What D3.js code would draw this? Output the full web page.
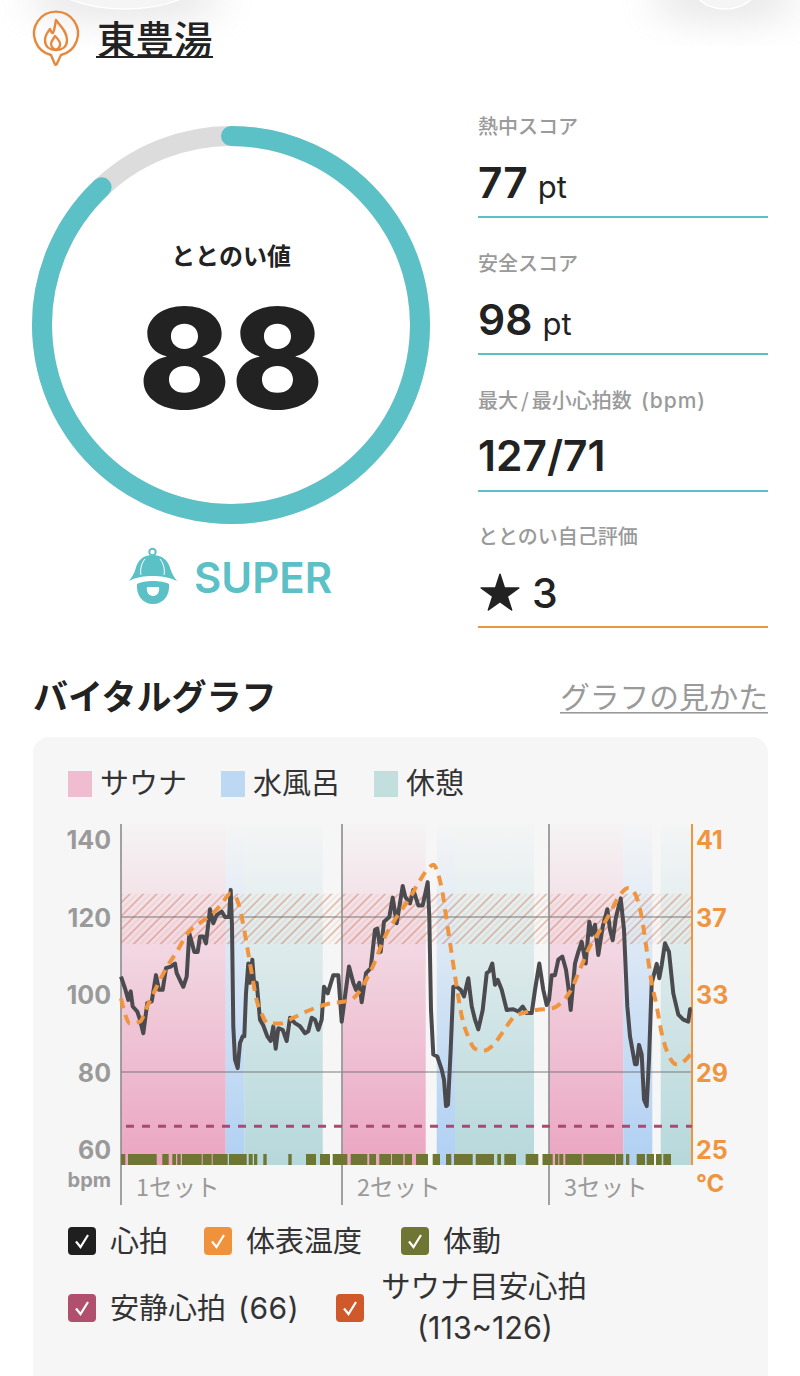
<!DOCTYPE html>
<html lang="ja"><head><meta charset="utf-8">
<script src="https://cdn.jsdelivr.net/npm/d3@7/dist/d3.min.js"></script>
<style>html,body{margin:0;padding:0;background:#fff}svg{display:block}text{font-family:Inter,"Noto Sans CJK JP",sans-serif}</style>
</head><body><svg id="c" width="800" height="1376"></svg>
<script>
// ---- data ----
const score = 88;
const stats = [
 {label:"熱中スコア", value:"77", unit:"pt"},
 {label:"安全スコア", value:"98", unit:"pt"},
 {label:"最大/最小心拍数 (bpm)", value:"127/71", unit:""},
 {label:"ととのい自己評価", value:"3", unit:""}
];
const bpmTicks = [60,80,100,120,140];
const tempTicks = [25,29,33,37,41];
const setStarts = [0,221,428];
const setLabels = ["1セット","2セット","3セット"];
const sauna = [[0,104.7],[221.7,304.7],[428,502.3]];
const water = [[104.7,123.3],[315.7,334],[502.3,531.3]];
const rest  = [[123.3,201.7],[334,413],[539.7,571]];
const restingHR = 66;
const targetHR = [113,126];
const hrT = [0,4,7.3,9.7,11.7,16.3,19,22.3,26.3,30.7,35,38,41.7,45,49.7,54,55.7,59.7,62.3,65.7,68.3,73.3,76.7,79,82.3,85,89,92.3,95.7,100.7,104,108,109.7,111,112.3,114,116.7,119,121.7,123.3,125,127.3,129,131.3,133,135.7,139,142.3,146.3,149.7,152.3,154.7,157.3,161.7,165.7,169,174,179,184,187.3,190.7,194,197.3,200.7,203,206.7,212.3,217.3,220.7,224,228,232.3,235,238.3,240.7,245,249.7,254,256.3,259.7,263,268.3,271.7,275.7,281.7,284.3,289,292.3,297.3,301.7,306.7,308.3,310,312.3,316.3,320.7,323,325,327,329.7,332.3,335.7,339.7,343,347.3,350.7,354,357.3,361.7,365.7,368.3,371.3,374,376.7,380.7,385.7,392.3,397.3,401.7,405.7,410.7,414,418.3,422.3,425.7,428,430.7,434,437.3,441.3,445,447.3,449.7,454,457.3,460.7,464.7,468.3,470.7,474,477.3,481.7,486.3,489,491.7,495,499.7,503,506.3,509,514,515.7,518,520.7,523,525.7,528,530.7,535.7,538.3,540.7,544,548,552.3,557.3,562.3,567.3,569,570.7];
const hrV = [104.6,101.6,98.6,100.8,96.9,95.6,93.5,90,97.8,98.2,105,101.2,101.2,106.8,107.2,108,105.5,103.3,102,104.6,115.8,111,111,115,115,113.2,122,118.4,120.5,121.4,120,120,127,117.5,91.8,83.2,81,87.5,89.2,89.2,100.3,108,103,109,103.3,103,93.5,92,89.2,88,91.8,86,91.3,90.9,88,94,92.6,91.8,90,90.5,94,93.5,90.9,93.5,102,100.3,105,105,93,99.5,107.2,103,101.2,103,98,105.5,106.8,116.7,117,111,118.8,120,125,118.4,128,125.2,123.5,127,123,123,129,120,96,84.5,84,80.6,78,71.2,71.6,85.8,102,102,101.2,99.5,104.2,97,93.5,91,96,105.5,106,108,102.5,103.8,101.2,96,96.2,95.6,96.9,95.2,95.2,101.2,108,101.2,97.3,98.6,105,105,109,109.8,106.4,102,96,108,111,113.6,108,118.8,115.4,118,110.2,117.5,122,116.7,114,120,124.8,116.7,97,89.2,82,82,87,84.5,72.9,71.2,83.2,103,107.9,104.2,107.6,113.2,111,100.3,94.8,93.5,93,96.2,96.3];
const tempT = [0,4,9,19,26.3,35.7,45.7,55.7,67.3,79,92.3,102.3,109,115,120.7,125.7,130.7,135.7,140.7,147.3,159,172.3,189,205.7,219,229,239,245.7,254,262.3,275.7,289,299,307.3,312.3,317.3,321.7,325.7,330.7,335.7,340.7,347.3,354,362.3,372.3,382.3,392.3,405.7,415.7,432.3,440.7,450.7,459,469,479,489,497.3,507.3,514,520.7,525.7,530.7,535.7,540.7,547.3,555.7,564,571];
const tempV = [32.8,32,31.5,31.6,32.4,33.4,34.4,35.2,36.2,36.7,37.2,37.8,38.2,38,37,35.6,34.1,32.7,32,31.5,31.5,31.8,32.2,32.5,32.6,32.7,33.2,33.8,34.7,35.8,37,38,38.9,39.5,39.7,39.2,38.2,36.8,35.1,33.4,31.9,30.8,30.2,30.1,30.4,31.1,31.8,32.1,32.2,32.3,32.6,33.3,34.3,35.5,36.3,37.2,38,38.5,38.2,37,35.3,33.6,32.4,31,29.9,29.4,29.6,30];
const motion = [[0,4.3],[7,35.7],[41.3,47.7],[51.3,55],[56.3,59.7],[61,80.7],[81.7,90.7],[91.7,106.7],[108,125.7],[127.7,131.7],[133,136.3],[142.3,145.7],[167.3,170.7],[185,195],[199,209],[211.7,226.3],[229.7,246.3],[248.3,255],[258.3,270],[271,282.3],[283.7,291],[295,307],[311.7,319],[325,330.3],[333,351.7],[354.7,373],[376.3,380],[383.3,395],[404.7,417.3],[421.5,431.7],[434,437.3],[438.3,442.3],[444.3,460.7],[462.3,494],[495,502.3],[505,508.3],[515.7,524],[525.7,533],[535,540.7],[542.3,550]];
const topLegend = [{t:"サウナ",c:"#f0bccf",x:68},{t:"水風呂",c:"#bcd8f3",x:221},{t:"休憩",c:"#c3dfdd",x:374}];
const checks = [
 {t:"心拍",c:"#1f1f1f",x:68,y:1227},
 {t:"体表温度",c:"#f0923c",x:204,y:1227},
 {t:"体動",c:"#6f7532",x:401,y:1227},
 {t:"安静心拍",extra:"(66)",c:"#b0506e",x:68,y:1294},
 {t:"",c:"#d0592c",x:336,y:1294}
];

// ---- drawing ----
const svg = d3.select("#c");
const defs = svg.append("defs");
const TEAL="#5cc0c7", ORANGE="#f0953f", INK="#222", GREY="#9a9a9a";
const JP='"Noto Sans CJK JP",Inter,sans-serif';

// soft top shadows
const blur = defs.append("filter").attr("id","blur").attr("x","-50%").attr("y","-50%").attr("width","200%").attr("height","200%");
blur.append("feGaussianBlur").attr("stdDeviation",18);
svg.append("ellipse").attr("cx",125).attr("cy",-2).attr("rx",100).attr("ry",24).attr("fill","#c4c4c4").attr("opacity",.4).attr("filter","url(#blur)");
svg.append("ellipse").attr("cx",725).attr("cy",-2).attr("rx",75).attr("ry",24).attr("fill","#c4c4c4").attr("opacity",.4).attr("filter","url(#blur)");
svg.append("ellipse").attr("cx",125).attr("cy",-22).attr("rx",76).attr("ry",31).attr("fill","#f5f5f5").attr("stroke","#fff").attr("stroke-width",1.5);
svg.append("ellipse").attr("cx",725).attr("cy",-22).attr("rx",36).attr("ry",31).attr("fill","#f5f5f5").attr("stroke","#fff").attr("stroke-width",1.5);

// pin icon
const pin = svg.append("g").attr("fill","none").attr("stroke","#e8883c").attr("stroke-width",2.4).attr("stroke-linejoin","round").attr("stroke-linecap","round");
pin.append("path").attr("d","M51 55 A22 22 0 1 1 61 55 L56.5 64.5 Q55.5 65.5 54.8 64 Z");
pin.append("path").attr("d","M56 20 C60 26 67 31 67 40 C67 47 62 50 56 50 C50 50 45 47 45 40 C45 35 48 32 50 29 C51 32 52 33 53 33 C55 29 55 24 56 20 Z");
pin.append("path").attr("d","M56 50 C51 48 50 44 52 41 C53 39 54 38 55 36 C58 39 61 42 60 45 C60 48 58 49 56 50");
svg.append("text").attr("x",97).attr("y",54).attr("font-size",38.5).attr("font-weight",500).attr("fill",INK).attr("style",`font-family:${JP}`).text("東豊湯");
svg.append("rect").attr("x",96).attr("y",56).attr("width",117).attr("height",2).attr("fill",INK);

// gauge
const gauge = svg.append("g").attr("transform","translate(231,325)");
const gaugeAngle = d3.scaleLinear().domain([0,100]).range([0,2*Math.PI]);
const R=189;
gauge.append("circle").attr("r",R).attr("fill","none").attr("stroke","#dcdcdc").attr("stroke-width",20);
const gp=d3.path();gp.arc(0,0,R,-Math.PI/2,gaugeAngle(score)-Math.PI/2);
gauge.append("path").attr("d",gp.toString()).attr("fill","none").attr("stroke",TEAL).attr("stroke-width",20).attr("stroke-linecap","round");
gauge.append("text").attr("text-anchor","middle").attr("y",-60).attr("font-size",24).attr("font-weight",700).attr("fill",INK).attr("style",`font-family:${JP}`).text("ととのい値");
gauge.append("text").attr("text-anchor","middle").attr("y",84).attr("font-size",140).attr("font-weight",800).attr("fill",INK).text(score);

// bell
const bell = svg.append("g");
bell.append("circle").attr("cx",152.5).attr("cy",552).attr("r",3.2).attr("fill","none").attr("stroke",TEAL).attr("stroke-width",2);
bell.append("path").attr("fill",TEAL).attr("d","M152.5 555 C143 555 138 560 135.5 569 C134.5 573 132 577 129 581 C136 577 145 576 152.5 576 C160 576 169 577 177 581 C174 577 171.5 573 170.5 569 C168 560 162 555 152.5 555 Z");
bell.append("path").attr("fill","none").attr("stroke","#fff").attr("stroke-width",1).attr("d","M145 559 C141 564 140 570 141 575 M160 559 C164 564 165 570 164 575");
bell.append("path").attr("fill",TEAL).attr("d","M137 584 C144 580 162 580 169 584 C170 596 163 604 153 604 C143 604 136 596 137 584 Z");
bell.append("path").attr("fill","#fff").attr("d","M147 587 L159 587 C160 592 157 596 153 596 C149 596 146 592 147 587 Z");
svg.append("text").attr("x",194).attr("y",593).attr("font-size",42).attr("font-weight",600).attr("fill",TEAL).text("SUPER");

// stats
const lineY=[217,354,491,627], labelY=[134,271,408,544], valueY=[198,335,471,608];
stats.forEach((s,i)=>{
  const lab=svg.append("text").attr("x",478).attr("y",labelY[i]).attr("font-size",20).attr("font-weight",500).attr("fill",GREY);
  const m=s.label.match(/^(.*?)\/(.*?) (\(.*\))$/);
  if(m){
    lab.append("tspan").attr("style",`font-family:${JP}`).text(m[1]);
    lab.append("tspan").attr("dx",3).attr("style",`font-family:${JP}`).text("/");
    lab.append("tspan").attr("dx",3).attr("style",`font-family:${JP}`).text(m[2]);
    lab.append("tspan").attr("x",641).attr("font-size",21).attr("letter-spacing",1).text(m[3]);
  } else lab.attr("style",`font-family:${JP}`).text(s.label);
  const v=svg.append("text").attr("x",i===3?532:478).attr("y",valueY[i]).attr("fill",INK).attr("font-size",i===3?41:42.5).attr("font-weight",i===3?500:600);
  v.append("tspan").text(s.value);
  if(s.unit) v.append("tspan").attr("dx",10).attr("font-size",31).attr("font-weight",400).text(s.unit);
  svg.append("rect").attr("x",478).attr("y",lineY[i]-1).attr("width",290).attr("height",2).attr("fill",i===3?ORANGE:TEAL);
});
svg.append("path").attr("transform","translate(500,594)").attr("fill",INK).attr("stroke",INK).attr("stroke-width",1.5).attr("stroke-linejoin","round").attr("d",d3.symbol(d3.symbolStar,440)());

// header
svg.append("text").attr("x",33).attr("y",710).attr("font-size",35).attr("font-weight",700).attr("fill",INK).attr("style",`font-family:${JP}`).text("バイタルグラフ");
svg.append("text").attr("x",768).attr("y",708).attr("text-anchor","end").attr("font-size",29.7).attr("fill",GREY).attr("style",`font-family:${JP}`).text("グラフの見かた");
svg.append("rect").attr("x",560).attr("y",712).attr("width",208).attr("height",1.6).attr("fill",GREY);

// panel
svg.append("rect").attr("x",33).attr("y",737).attr("width",735).attr("height",660).attr("rx",16).attr("fill","#f6f6f6");
topLegend.forEach(d=>{
  svg.append("rect").attr("x",d.x).attr("y",771).attr("width",24).attr("height",26).attr("fill",d.c);
  svg.append("text").attr("x",d.x+32).attr("y",794).attr("font-size",29).attr("fill","#333").attr("style",`font-family:${JP}`).text(d.t);
});

// scales
const x = d3.scaleLinear().domain([0,571]).range([121,692]);
const y = d3.scaleLinear().domain([56,144]).range([1165,824]);
const yT = d3.scaleLinear().domain([24.2,41.8]).range([1165,824]);

function grad(id,c){
  const g=defs.append("linearGradient").attr("id",id).attr("x1",0).attr("y1",1).attr("x2",0).attr("y2",0);
  g.append("stop").attr("offset",0).attr("stop-color",c).attr("stop-opacity",1);
  g.append("stop").attr("offset",1).attr("stop-color",c).attr("stop-opacity",.03);
}
grad("gS","#eba5c1");grad("gW","#b0d0f3");grad("gR","#b6d8db");
[[sauna,"gS"],[water,"gW"],[rest,"gR"]].forEach(([arr,id])=>{
  svg.append("g").selectAll("rect").data(arr).join("rect")
    .attr("x",d=>x(d[0])).attr("width",d=>x(d[1])-x(d[0]))
    .attr("y",y(144)).attr("height",y(56)-y(144)).attr("fill",`url(#${id})`);
});

// target band hatch
const pat=defs.append("pattern").attr("id","hatch").attr("patternUnits","userSpaceOnUse").attr("width",9.5).attr("height",9.5).attr("patternTransform","rotate(45)");
pat.append("line").attr("x1",2).attr("x2",2).attr("y1",0).attr("y2",9.5).attr("stroke","#c9603a").attr("stroke-opacity",.58).attr("stroke-width",1.2);
pat.append("line").attr("x1",6.7).attr("x2",6.7).attr("y1",0).attr("y2",9.5).attr("stroke","#d8a070").attr("stroke-opacity",.3).attr("stroke-width",1.1);
svg.append("rect").attr("x",x(0)).attr("width",x(571)-x(0)).attr("y",y(targetHR[1])).attr("height",y(targetHR[0])-y(targetHR[1])).attr("fill","url(#hatch)");

// grid lines
svg.append("g").selectAll("line").data([80,120]).join("line")
  .attr("x1",x(0)).attr("x2",x(571)).attr("y1",d=>y(d)).attr("y2",d=>y(d)).attr("stroke","#6b6b6b").attr("stroke-opacity",.6).attr("stroke-width",1.5);
svg.append("g").selectAll("line").data(setStarts).join("line")
  .attr("x1",d=>x(d)).attr("x2",d=>x(d)).attr("y1",824).attr("y2",1205).attr("stroke","#8c8c8c").attr("stroke-width",1.6);
svg.append("line").attr("x1",x(571)).attr("x2",x(571)).attr("y1",824).attr("y2",1165).attr("stroke",ORANGE).attr("stroke-width",2);

// resting HR
svg.append("line").attr("x1",x(5)).attr("x2",x(571)).attr("y1",y(restingHR)).attr("y2",y(restingHR)).attr("stroke","#ab4a70").attr("stroke-width",3).attr("stroke-dasharray","8 8");

// motion
svg.append("g").selectAll("rect").data(motion).join("rect")
  .attr("x",d=>x(d[0])).attr("width",d=>x(d[1])-x(d[0])).attr("y",1154).attr("height",11).attr("fill","#6f7532");

// heart rate
svg.append("path").attr("fill","none").attr("stroke","#4b4b4f").attr("stroke-width",4).attr("stroke-linejoin","round")
  .attr("d",d3.line().x((d,i)=>x(hrT[i])).y(d=>y(d))(hrV));
// temperature
svg.append("path").attr("fill","none").attr("stroke",ORANGE).attr("stroke-width",4).attr("stroke-dasharray","10 7")
  .attr("d",d3.line().curve(d3.curveMonotoneX).x((d,i)=>x(tempT[i])).y(d=>yT(d))(tempV));

// axes
const axL=svg.append("g").attr("transform","translate(111,1)").call(d3.axisLeft(y).tickValues(bpmTicks).tickSize(0).tickPadding(0));
const axR=svg.append("g").attr("transform","translate(696,1)").call(d3.axisRight(yT).tickValues(tempTicks).tickSize(0).tickPadding(0));
axL.select(".domain").remove();axR.select(".domain").remove();
axL.selectAll("text").attr("font-size",25).attr("font-weight",700).attr("fill",GREY).style("font-family","Inter");
axR.selectAll("text").attr("font-size",25).attr("font-weight",700).attr("fill",ORANGE).style("font-family","Inter");
svg.append("text").attr("x",111).attr("y",1187).attr("text-anchor","end").attr("font-size",20).attr("font-weight",700).attr("fill",GREY).text("bpm");
svg.append("text").attr("x",696).attr("y",1192).attr("font-size",24).attr("font-weight",700).attr("fill",ORANGE).text("°C");
svg.append("g").selectAll("text").data(setLabels).join("text")
  .attr("x",(d,i)=>x(setStarts[i])+15).attr("y",1196).attr("font-size",23.5).attr("fill",GREY).attr("style",`font-family:${JP}`).text(d=>d);

// check legend
checks.forEach(d=>{
  svg.append("rect").attr("x",d.x).attr("y",d.y).attr("width",28).attr("height",28).attr("rx",4).attr("fill",d.c);
  svg.append("path").attr("transform",`translate(${d.x},${d.y})`).attr("d","M8 14.5 L12.5 20 L20 8").attr("fill","none").attr("stroke","#fff").attr("stroke-width",2.2);
  if(d.t){
    const t=svg.append("text").attr("x",d.x+42).attr("y",d.y+25).attr("font-size",29).attr("fill","#333").text(d.t);
    if(d.extra) t.append("tspan").attr("x",238).attr("font-size",30).attr("letter-spacing",.5).text(d.extra);
  }
});
svg.append("text").attr("x",484).attr("y",1297).attr("text-anchor","middle").attr("font-size",29.4).attr("fill","#333").attr("style",`font-family:${JP}`).text("サウナ目安心拍");
svg.append("text").attr("x",485).attr("y",1339).attr("text-anchor","middle").attr("font-size",30.5).attr("fill","#333").text("(113~126)");
</script></body></html>
